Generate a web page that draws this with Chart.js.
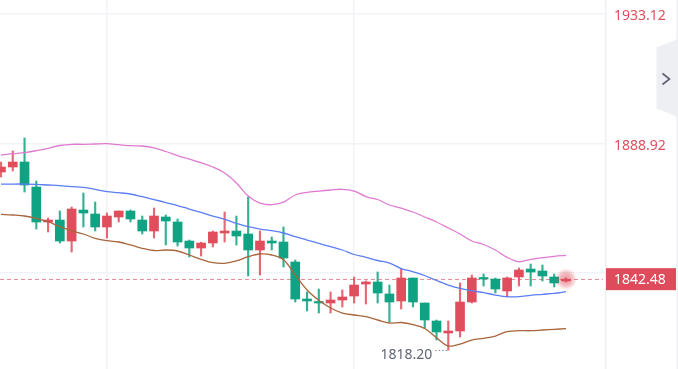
<!DOCTYPE html>
<html><head><meta charset="utf-8">
<script src="https://cdn.jsdelivr.net/npm/chart.js@4.4.1/dist/chart.umd.min.js"></script>
<style>html,body{margin:0;padding:0;background:#fff;overflow:hidden}#wrap{width:678px;height:369px;position:relative}</style>
</head><body><div id="wrap"><canvas id="c" width="678" height="369"></canvas></div>
<script>
const categories = ['1','2','3','4','5','6','7','8','9','10','11','12','13','14','15','16','17','18','19','20','21','22','23','24','25','26','27','28','29','30','31','32','33','34','35','36','37','38','39','40','41','42','43','44','45','46','47','48','49'];
const openP  = [1879.11,1880.82,1882.53,1873.98,1862.02,1862.70,1855.52,1866.12,1864.75,1860.31,1863.73,1865.78,1862.70,1858.94,1863.73,1862.02,1855.52,1853.13,1854.84,1858.26,1858.94,1857.92,1852.45,1855.52,1855.18,1848.34,1835.70,1834.67,1834.33,1835.35,1836.72,1840.82,1841.51,1837.41,1835.01,1842.87,1834.33,1828.18,1824.07,1824.76,1834.67,1842.87,1842.53,1838.43,1843.22,1845.95,1845.27,1843.22,1841.85];
const highP  = [1882.53,1886.29,1890.73,1876.03,1863.39,1865.78,1867.15,1871.93,1868.85,1865.09,1865.78,1866.12,1864.07,1866.80,1864.41,1863.04,1855.86,1855.10,1858.94,1865.44,1864.07,1870.56,1858.94,1856.89,1860.31,1849.03,1838.09,1839.11,1838.09,1838.77,1843.22,1841.85,1844.93,1840.48,1845.95,1842.87,1834.33,1828.52,1828.18,1841.17,1843.90,1844.24,1842.87,1843.22,1846.29,1847.66,1847.32,1844.24,1842.90];
const lowP   = [1877.40,1879.45,1872.27,1859.62,1858.60,1854.84,1851.76,1860.31,1858.94,1856.55,1862.02,1862.02,1857.92,1856.55,1854.16,1853.81,1850.05,1850.40,1853.47,1855.18,1854.16,1843.56,1843.90,1852.45,1846.64,1834.67,1831.59,1830.91,1830.91,1832.96,1834.33,1833.99,1834.33,1827.83,1832.28,1832.96,1825.78,1821.68,1818.20,1822.71,1834.33,1840.14,1837.75,1836.38,1840.14,1840.14,1841.85,1839.80,1841.50];
const closeP = [1880.82,1882.53,1874.67,1862.02,1862.70,1855.52,1866.46,1865.09,1860.31,1864.07,1865.78,1863.04,1858.94,1864.07,1862.36,1855.18,1853.13,1854.84,1858.60,1858.94,1857.23,1852.45,1855.52,1854.84,1849.71,1835.70,1835.01,1834.33,1835.35,1836.38,1840.48,1841.51,1837.75,1834.67,1842.87,1834.67,1828.52,1824.42,1824.76,1834.67,1842.87,1842.53,1839.11,1842.87,1845.61,1844.93,1843.56,1841.17,1842.48];
const upperBand = [1884.92,1885.37,1885.71,1886.39,1887.21,1888.17,1888.58,1888.58,1888.68,1888.78,1888.44,1888.10,1888.00,1887.38,1886.12,1884.75,1883.55,1882.29,1880.82,1878.77,1875.35,1870.90,1868.51,1867.93,1868.79,1871.25,1872.17,1872.61,1872.96,1873.20,1872.61,1870.73,1869.71,1867.83,1866.80,1865.44,1863.73,1862.02,1859.97,1857.92,1855.52,1854.33,1852.45,1849.95,1848.45,1849.27,1849.81,1850.29,1850.63];
const midBand   = [1874.95,1875.00,1875.00,1874.91,1874.67,1874.43,1874.08,1873.88,1873.20,1872.38,1872.03,1871.59,1870.67,1869.71,1868.68,1867.66,1866.46,1865.27,1864.07,1862.94,1861.57,1860.41,1859.62,1859.04,1858.26,1856.99,1855.86,1854.74,1853.57,1852.45,1850.91,1849.95,1848.86,1848.00,1846.12,1845.03,1843.73,1842.02,1840.48,1839.35,1838.53,1837.85,1837.06,1836.48,1836.48,1836.96,1837.30,1837.64,1838.19];
const lowerBand = [1864.65,1864.41,1864.07,1863.28,1862.12,1860.41,1859.04,1857.92,1856.45,1855.62,1855.18,1854.16,1853.03,1852.28,1852.45,1852.11,1850.74,1849.27,1848.11,1847.90,1848.69,1850.16,1851.08,1850.74,1849.13,1843.90,1838.77,1835.25,1832.62,1830.91,1830.23,1829.64,1828.52,1827.49,1827.66,1826.98,1825.61,1822.47,1819.63,1820.31,1821.68,1822.26,1823.05,1824.52,1824.86,1824.86,1825.10,1825.34,1825.54];
const yTickValues = [1844.72, 1888.92, 1933.12];
const xGridIndexes = [9, 30];
const lastPrice = 1842.48;
const lowestPrice = 1818.20;
const lowestIndex = 38;

const UP = '#e04e5d', DOWN = '#10a383', FONT = "'Noto Sans', 'DejaVu Sans', sans-serif";
const idx = categories.map((_, i) => i);
const colorOf = i => closeP[i] >= openP[i] ? UP : DOWN;
const wickColorOf = i => closeP[i] >= openP[i] ? 'rgba(224,78,93,0.85)' : 'rgba(16,163,131,0.85)';

const overlay = {
  id: 'overlay',
  beforeDatasetsDraw(chart) {
    const {ctx, chartArea: a, scales: {y}} = chart;
    const py = Math.round(y.getPixelForValue(lastPrice)) + 0.5;
    ctx.save();
    ctx.strokeStyle = 'rgba(224,78,93,0.65)';
    ctx.lineWidth = 1;
    ctx.setLineDash([4, 3]);
    ctx.beginPath(); ctx.moveTo(a.left, py); ctx.lineTo(a.right - 2, py); ctx.stroke();
    ctx.restore();
  },
  afterDraw(chart) {
    const {ctx, chartArea: a, scales: {x, y}} = chart;
    ctx.save();
    ctx.fillStyle = '#eef0f4';
    ctx.fillRect(a.right, 0, 1.6, chart.height);
    ctx.fillRect(chart.width - 1.6, 0, 1.6, chart.height);
    const lx = x.getPixelForValue(idx.length - 1), ly = y.getPixelForValue(lastPrice);
    const g = ctx.createRadialGradient(lx, ly, 0, lx, ly, 11);
    g.addColorStop(0, 'rgba(224,78,93,0.6)');
    g.addColorStop(0.55, 'rgba(224,78,93,0.38)');
    g.addColorStop(1, 'rgba(224,78,93,0)');
    ctx.fillStyle = g;
    ctx.beginPath(); ctx.arc(lx, ly, 11, 0, Math.PI * 2); ctx.fill();
    ctx.fillStyle = '#de4c5b';
    ctx.fillRect(a.right + 1, ly - 11, 70, 22);
    ctx.fillStyle = '#ffffff';
    ctx.font = '14px ' + FONT;
    ctx.textAlign = 'left'; ctx.textBaseline = 'middle';
    ctx.fillText(lastPrice.toFixed(2), a.right + 9, ly + 0.5);
    const mx = x.getPixelForValue(lowestIndex), my = y.getPixelForValue(lowestPrice);
    ctx.strokeStyle = '#8a8f9c'; ctx.lineWidth = 1; ctx.setLineDash([1.5, 2]);
    ctx.beginPath(); ctx.moveTo(mx - 13, Math.round(my) + 0.5); ctx.lineTo(mx - 1, Math.round(my) + 0.5); ctx.stroke();
    ctx.setLineDash([]);
    ctx.fillStyle = '#5f6576';
    ctx.textAlign = 'right';
    ctx.fillText(lowestPrice.toFixed(2), mx - 16, my + 5);
    const W = chart.width;
    ctx.fillStyle = '#eeeff3';
    ctx.beginPath(); ctx.moveTo(W, 39); ctx.lineTo(W - 21.5, 47.5); ctx.lineTo(W - 21.5, 108.5); ctx.lineTo(W, 117); ctx.closePath(); ctx.fill();
    ctx.strokeStyle = '#5c6070'; ctx.lineWidth = 1.6;
    ctx.beginPath(); ctx.moveTo(662.5, 73.5); ctx.lineTo(669.5, 79); ctx.lineTo(662.5, 84.5); ctx.stroke();
    ctx.restore();
  }
};

new Chart(document.getElementById('c'), {
  type: 'bar',
  data: {
    datasets: [
      {type: 'line', data: idx.map(i => ({x: i, y: upperBand[i]})), borderColor: '#df7ad3', borderWidth: 1.3, pointRadius: 0, tension: 0.35, order: 0},
      {type: 'line', data: idx.map(i => ({x: i, y: midBand[i]})), borderColor: '#5b7ef3', borderWidth: 1.3, pointRadius: 0, tension: 0.35, order: 0},
      {type: 'line', data: idx.map(i => ({x: i, y: lowerBand[i]})), borderColor: '#a9653b', borderWidth: 1.3, pointRadius: 0, tension: 0.35, order: 0},
      {type: 'bar', data: idx.map(i => ({x: i, y: [lowP[i], highP[i]]})), backgroundColor: idx.map(wickColorOf), barThickness: 1.5, grouped: false, order: 2},
      {type: 'bar', data: idx.map(i => ({x: i, y: [openP[i], closeP[i]]})), backgroundColor: idx.map(colorOf), barThickness: 9, minBarLength: 1.5, grouped: false, order: 1}
    ]
  },
  options: {
    responsive: false, animation: false, maintainAspectRatio: false,
    layout: {padding: 0},
    plugins: {legend: {display: false}, tooltip: {enabled: false}},
    scales: {
      x: {
        type: 'linear', min: -0.085, max: 51.315, offset: false,
        grid: {color: '#f2f3f6', lineWidth: 1.5, drawTicks: false, offset: false},
        border: {display: false},
        ticks: {display: false},
        afterBuildTicks: s => { s.ticks = xGridIndexes.map(v => ({value: v})); },
        afterFit: s => { s.height = 0; s.paddingTop = 0; s.paddingBottom = 0; s.paddingLeft = 0; s.paddingRight = 0; }
      },
      y: {
        type: 'linear', position: 'right', min: 1811.77, max: 1937.91,
        grid: {color: '#f2f3f6', lineWidth: 1.5, drawTicks: false},
        border: {display: false},
        ticks: {color: UP, font: {family: FONT, size: 14}, padding: 9, labelOffset: 2.5, callback: v => Number(v).toFixed(2)},
        afterBuildTicks: s => { s.ticks = yTickValues.map(v => ({value: v})); },
        afterFit: s => { s.width = 73; s.paddingTop = 0; s.paddingBottom = 0; s.paddingLeft = 0; s.paddingRight = 0; }
      }
    }
  },
  plugins: [overlay]
});
</script></body></html>
